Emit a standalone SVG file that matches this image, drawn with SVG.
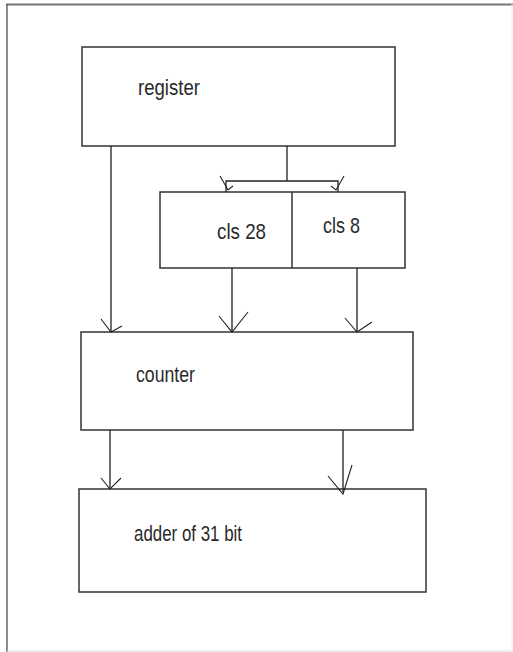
<svg xmlns="http://www.w3.org/2000/svg" width="513" height="652" viewBox="0 0 513 652">
<style>
.box{fill:#fff;stroke:#333;stroke-width:1.5}
.ln{fill:none;stroke:#222;stroke-width:1.3}
.ah{fill:none;stroke:#222;stroke-width:1.1}
text{font-family:"Liberation Sans",Arial,sans-serif;font-size:22px;fill:#2a2a2a}
</style>
<rect x="0" y="0" width="513" height="652" fill="#fff"/>
<line x1="6" y1="4.5" x2="513" y2="4.5" stroke="#777" stroke-width="2"/>
<line x1="7" y1="4" x2="7" y2="652" stroke="#666" stroke-width="1.5"/>
<line x1="7" y1="651" x2="513" y2="651" stroke="#ddd" stroke-width="1"/>
<line x1="512" y1="4" x2="512" y2="652" stroke="#f0f0f0" stroke-width="1"/>
<g id="register"><rect class="box" x="82" y="47" width="313" height="99"/><text x="138" y="95" textLength="62" lengthAdjust="spacingAndGlyphs">register</text></g>
<g id="cls"><rect class="box" x="160" y="192" width="245" height="76"/><line class="box" x1="292" y1="192" x2="292" y2="268"/><text x="217" y="239" textLength="49" lengthAdjust="spacingAndGlyphs">cls 28</text><text x="323" y="233" textLength="37" lengthAdjust="spacingAndGlyphs">cls 8</text></g>
<g id="counter"><rect class="box" x="81" y="332" width="332" height="98"/><text x="136" y="382" textLength="59" lengthAdjust="spacingAndGlyphs">counter</text></g>
<g id="adder"><rect class="box" x="79" y="489" width="347" height="103"/><text x="134" y="541" textLength="108" lengthAdjust="spacingAndGlyphs">adder of 31 bit</text></g>
<g id="connectors">
<path class="ln" d="M111 146V332M287 146V181M226 192V181H338V192M232 268V332M357 268V332M110 430V489M343 430V492"/>
<path class="ah" d="M220 176L228 190L233 186M344 176L336 190L331 186"/>
<path class="ah" d="M101 319L111 332L122 326M219 316L232 332L248 312M345 318L357 332L372 322M101 478L110 489L121 478M328 476L343 494L352 465"/>
</g>
</svg>
